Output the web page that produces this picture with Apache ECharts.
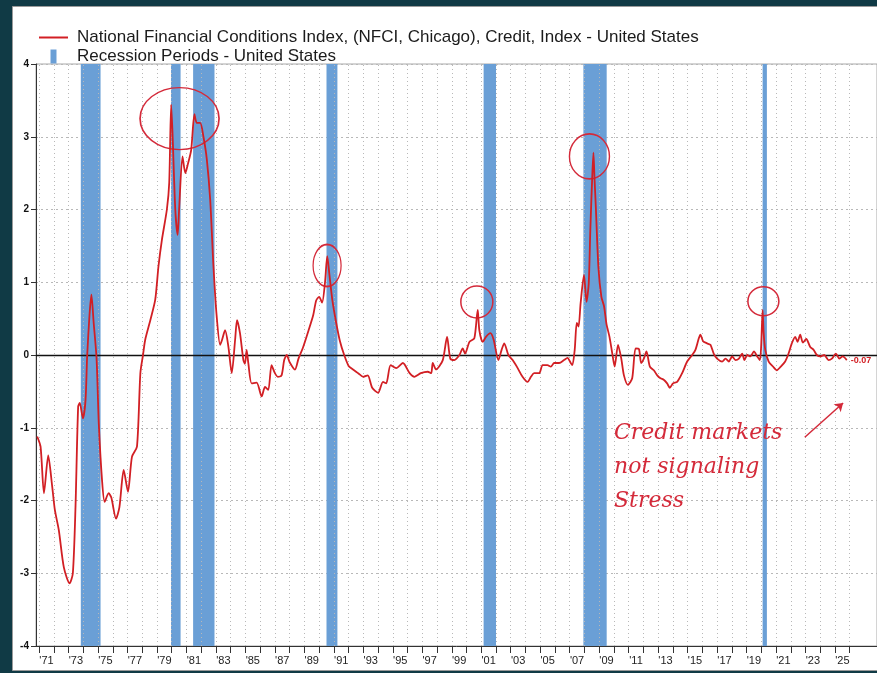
<!DOCTYPE html>
<html>
<head>
<meta charset="utf-8">
<script src="https://cdn.jsdelivr.net/npm/echarts@6/dist/echarts.min.js"></script>
<style>
  html, body { margin: 0; padding: 0; background: #103a45; }
  #chart { width: 877px; height: 673px; }
</style>
</head>
<body>
<div id="chart"></div>
<script>
// ── Data ──────────────────────────────────────────────────────────────────────
const nfciYears = [
  1970.87, 1971.1, 1971.33, 1971.62, 1971.89, 1972.07, 1972.34, 1972.68, 1973.07, 1973.29,
  1973.47, 1973.65, 1973.76, 1973.97, 1974.15, 1974.26, 1974.42, 1974.55, 1974.7, 1974.9,
  1975.05, 1975.27, 1975.45, 1975.72, 1975.9, 1976.22, 1976.45, 1976.74, 1977.03, 1977.3,
  1977.64, 1977.87, 1978.05, 1978.2, 1978.55, 1978.88, 1979.1, 1979.33, 1979.67, 1979.83,
  1979.96, 1980.05, 1980.24, 1980.4, 1980.5, 1980.73, 1980.92, 1981.09, 1981.32, 1981.54,
  1981.7, 1981.93, 1982.15, 1982.38, 1982.61, 1982.83, 1983.05, 1983.28, 1983.4, 1983.62,
  1983.84, 1984.07, 1984.3, 1984.43, 1984.63, 1984.86, 1984.97, 1985.08, 1985.2, 1985.42,
  1985.76, 1986.1, 1986.33, 1986.55, 1986.77, 1987.0, 1987.2, 1987.45, 1987.63, 1987.8,
  1988.0, 1988.36, 1988.6, 1988.9, 1989.3, 1989.6, 1989.8, 1990.0, 1990.2, 1990.4,
  1990.55, 1990.7, 1990.9, 1991.15, 1991.4, 1991.7, 1992.0, 1992.3, 1992.65, 1993.0,
  1993.3, 1993.6, 1994.0, 1994.33, 1994.55, 1994.85, 1995.23, 1995.68, 1996.14, 1996.47,
  1996.9, 1997.37, 1997.6, 1997.71, 1997.93, 1998.39, 1998.68, 1998.9, 1999.18, 1999.52,
  1999.74, 1999.9, 2000.2, 2000.53, 2000.76, 2000.87, 2001.1, 2001.32, 2001.62, 2001.84,
  2002.16, 2002.38, 2002.56, 2002.84, 2003.13, 2003.47, 2003.8, 2004.14, 2004.37, 2004.59,
  2004.93, 2005.16, 2005.49, 2005.72, 2005.95, 2006.28, 2006.62, 2006.85, 2007.07, 2007.18,
  2007.34, 2007.48, 2007.6, 2007.74, 2007.97, 2008.14, 2008.29, 2008.4, 2008.52, 2008.61,
  2008.68, 2008.78, 2008.95, 2009.15, 2009.33, 2009.5, 2009.7, 2009.89, 2010.05, 2010.28,
  2010.5, 2010.68, 2010.95, 2011.24, 2011.47, 2011.7, 2011.85, 2012.03, 2012.21, 2012.44,
  2012.71, 2012.94, 2013.16, 2013.38, 2013.61, 2013.79, 2014.01, 2014.29, 2014.63, 2014.97,
  2015.31, 2015.53, 2015.76, 2015.87, 2016.05, 2016.32, 2016.55, 2016.77, 2017.0, 2017.34,
  2017.57, 2017.8, 2018.02, 2018.25, 2018.48, 2018.7, 2018.86, 2019.04, 2019.27, 2019.5,
  2019.72, 2019.9, 2019.99, 2020.09, 2020.16, 2020.27, 2020.5, 2020.8, 2021.05, 2021.32,
  2021.62, 2021.85, 2022.07, 2022.3, 2022.46, 2022.64, 2022.82, 2023.05, 2023.32, 2023.55,
  2023.77, 2024.0, 2024.27, 2024.56, 2024.79, 2025.06, 2025.29, 2025.52, 2025.8
];
const nfciValues = [
  -1.12, -1.26, -1.90, -1.38, -1.81, -2.13, -2.41, -2.92, -3.14, -3.00,
  -2.09, -0.71, -0.66, -0.87, -0.62, -0.02, 0.55, 0.83, 0.45, -0.05,
  -0.94, -1.72, -2.02, -1.90, -1.96, -2.25, -2.09, -1.58, -1.88, -1.40,
  -1.26, -0.25, 0.00, 0.21, 0.48, 0.76, 1.22, 1.58, 2.00, 2.37,
  3.44, 3.06, 2.00, 1.65, 2.00, 2.73, 2.50, 2.62, 2.82, 3.31,
  3.19, 3.19, 3.00, 2.69, 2.13, 1.22, 0.53, 0.14, 0.20, 0.34,
  0.12, -0.25, 0.21, 0.48, 0.30, -0.07, -0.12, 0.07, -0.12, -0.39,
  -0.38, -0.57, -0.44, -0.48, -0.14, -0.25, -0.30, -0.28, -0.07, 0.00,
  -0.10, -0.20, -0.05, 0.10, 0.35, 0.55, 0.75, 0.80, 0.72, 1.00,
  1.36, 1.10, 0.75, 0.45, 0.20, 0.00, -0.15, -0.20, -0.25, -0.30,
  -0.28, -0.45, -0.52, -0.37, -0.39, -0.14, -0.18, -0.11, -0.25, -0.30,
  -0.25, -0.23, -0.25, -0.11, -0.20, -0.07, 0.25, -0.05, -0.07, 0.00,
  0.09, 0.02, 0.18, 0.23, 0.62, 0.34, 0.18, 0.25, 0.30, 0.21,
  -0.07, 0.07, 0.16, 0.00, -0.07, -0.18, -0.30, -0.37, -0.30, -0.25,
  -0.25, -0.14, -0.14, -0.16, -0.11, -0.11, -0.07, -0.04, -0.11, -0.14,
  0.07, 0.44, 0.39, 0.71, 1.10, 0.73, 0.98, 1.72, 2.40, 2.78,
  2.45, 2.00, 1.20, 0.80, 0.67, 0.42, 0.25, 0.02, -0.16, 0.14,
  -0.05, -0.28, -0.41, -0.32, 0.09, 0.08, -0.11, -0.05, 0.05, -0.16,
  -0.21, -0.28, -0.32, -0.34, -0.39, -0.45, -0.39, -0.37, -0.25, -0.09,
  0.00, 0.07, 0.23, 0.28, 0.19, 0.16, 0.14, 0.02, -0.05, -0.09,
  -0.05, -0.09, -0.02, -0.07, -0.05, 0.02, -0.07, 0.00, -0.02, 0.05,
  -0.02, -0.07, 0.12, 0.62, 0.30, 0.07, -0.09, -0.16, -0.21, -0.16,
  -0.09, 0.02, 0.16, 0.25, 0.18, 0.28, 0.17, 0.22, 0.11, 0.07,
  0.00, -0.02, 0.00, -0.07, -0.05, 0.02, -0.05, -0.02, -0.07
];

// recession periods, decimal years
const recessionStart = [1973.83, 1979.95, 1981.45, 1990.5, 2001.16, 2007.93, 2020.09];
const recessionEnd   = [1975.17, 1980.6, 1982.9, 1991.24, 2002.0, 2009.51, 2020.38];

// axis ticks (year boundaries) and labels (mid-year, every other year)
const tickYears  = [];
for (let y = 1971; y <= 2026; y++) tickYears.push(y);
const labelYears = [];
for (let y = 1971; y <= 2025; y += 2) labelYears.push(y + 0.5);
const yTicks = [-4, -3, -2, -1, 0, 1, 2, 3, 4];

// hand-drawn circles: [year, value, width, height]
const circleMarks = [
  [1980.53, 3.25, 79, 62],
  [1990.54, 1.23, 28, 42],
  [2000.70, 0.73, 32, 32],
  [2008.34, 2.73, 40, 45],
  [2020.14, 0.74, 31, 29],
];

const lineName = 'National Financial Conditions Index, (NFCI, Chicago), Credit, Index - United States';
const recName  = 'Recession Periods - United States';

// ── Chart ─────────────────────────────────────────────────────────────────────
const RED  = '#d21f24';
const INK  = '#d42a3a';
const BLUE = '#6a9fd6';
const GRID = '#b8b8b8';
const FONT = 'Liberation Sans, Arial, sans-serif';

const chart = echarts.init(document.getElementById('chart'), null, { renderer: 'canvas' });

chart.setOption({
  backgroundColor: '#103a45',
  animation: false,
  textStyle: { fontFamily: FONT },
  graphic: [
    {
      type: 'rect', z: -10, silent: true,
      shape: { x: 12.5, y: 6.5, width: 880, height: 664 },
      style: { fill: '#ffffff', stroke: '#9a9a9a', lineWidth: 1 },
    },
    {
      type: 'text', left: 614, top: 416, z: 20, silent: true,
      style: {
        text: 'Credit markets\nnot signaling\nStress',
        fill: INK, font: 'italic 22px "DejaVu Serif", serif', lineHeight: 34,
      },
    },
  ],
  legend: {
    orient: 'vertical',
    left: 39,
    top: 29,
    padding: 0,
    itemWidth: 29,
    itemHeight: 14,
    itemGap: 2,
    selectedMode: false,
    textStyle: { fontSize: 17, color: '#1b1b1b', fontFamily: FONT, padding: [0, 0, 0, 4] },
    data: [
      { name: lineName, icon: 'path://M0,0h29v2h-29z' },
      { name: recName, icon: 'path://M0,0h6v14h-6z' },
    ],
  },
  grid: {
    left: 36, right: -4, top: 64, bottom: 27,
    show: true, backgroundColor: 'transparent', borderColor: '#a8a8a8', borderWidth: 1,
  },
  xAxis: {
    type: 'value',
    min: 1970.79,
    max: 2027.85,
    axisLine: { show: true, onZero: false, lineStyle: { color: '#333', width: 1 } },
    axisTick: { show: true, customValues: tickYears, length: 7, lineStyle: { color: '#333' } },
    axisLabel: {
      customValues: labelYears,
      color: '#222',
      fontSize: 11,
      margin: 9,
      formatter: v => "'" + String(Math.floor(v)).slice(2),
    },
    splitLine: { show: false },
  },
  yAxis: {
    type: 'value',
    min: -4,
    max: 4,
    interval: 1,
    axisLine: { show: true, lineStyle: { color: '#333', width: 1 } },
    axisTick: { show: true, length: 5, lineStyle: { color: '#333' } },
    axisLabel: { color: '#111', fontSize: 10, fontWeight: 'bold', margin: 7, customValues: yTicks },
    splitLine: { show: true, lineStyle: { color: GRID, type: [2, 3], width: 1 } },
  },
  series: [
    {
      // vertical dotted grid at every year boundary
      name: 'year grid',
      type: 'line',
      data: [],
      z: 1,
      markLine: {
        silent: true,
        symbol: 'none',
        label: { show: false },
        lineStyle: { color: GRID, width: 1, type: [1, 3] },
        data: tickYears.map(y => ({ xAxis: y })),
      },
    },
    {
      name: recName,
      type: 'line',
      data: [],
      z: 2,
      itemStyle: { color: BLUE },
      lineStyle: { color: BLUE },
      markArea: {
        silent: true,
        itemStyle: { color: BLUE, opacity: 1 },
        data: recessionStart.map((s, i) => [{ xAxis: s }, { xAxis: recessionEnd[i] }]),
      },
    },
    {
      name: 'zero line',
      type: 'line',
      data: [],
      z: 3,
      markLine: {
        silent: true,
        symbol: 'none',
        label: { show: false },
        lineStyle: { color: '#111', width: 1.4, type: 'solid' },
        data: [{ yAxis: 0 }],
      },
    },
    {
      name: lineName,
      type: 'line',
      z: 5,
      symbol: 'none',
      smooth: 0.25,
      color: RED,
      lineStyle: { color: RED, width: 1.8 },
      data: nfciYears.map((y, i) => [y, nfciValues[i]]),
      endLabel: {
        show: true,
        distance: 4,
        color: RED,
        fontSize: 9,
        fontWeight: 'bold',
        formatter: p => p.value[1].toFixed(2),
      },
    },
    {
      name: 'annotations',
      type: 'scatter',
      data: [],
      z: 10,
      markPoint: {
        silent: true,
        symbol: 'circle',
        label: { show: false },
        itemStyle: { color: 'transparent', borderColor: INK, borderWidth: 1.5 },
        data: circleMarks.map(c => ({ coord: [c[0], c[1]], symbolSize: [c[2], c[3]] })),
      },
      markLine: {
        silent: true,
        symbol: ['none', 'arrow'],
        symbolSize: 8,
        label: { show: false },
        lineStyle: { color: INK, width: 1.5, type: 'solid', curveness: 0.2 },
        data: [[{ coord: [2022.95, -1.13] }, { coord: [2025.55, -0.66] }]],
      },
    },
  ],
});
</script>
</body>
</html>
